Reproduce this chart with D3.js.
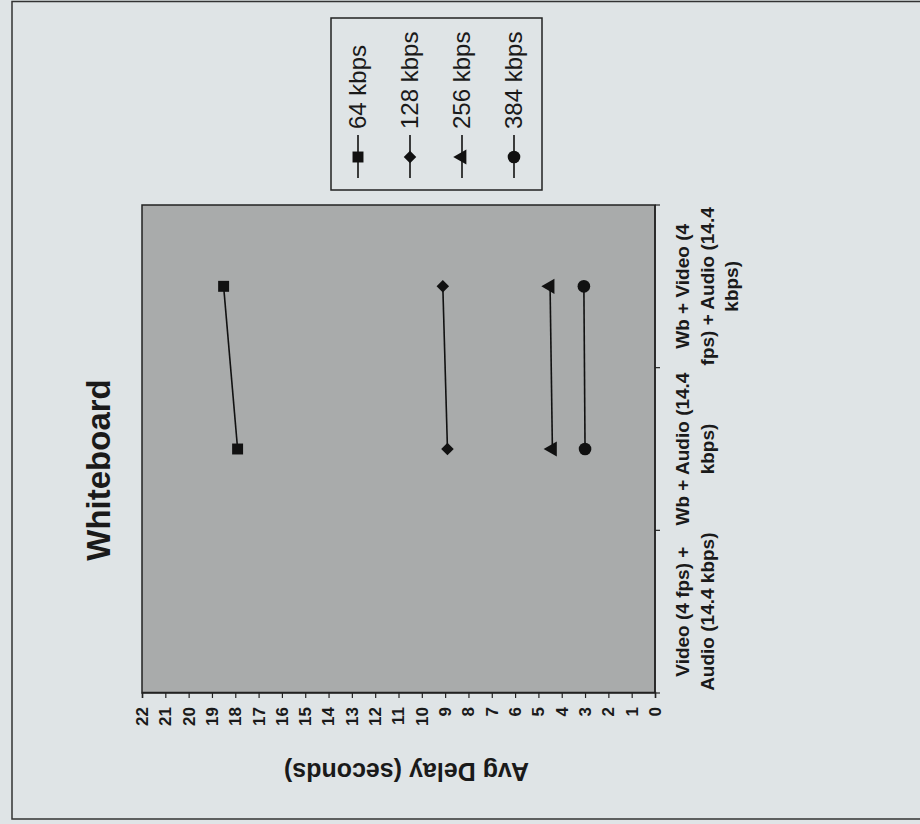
<!DOCTYPE html>
<html>
<head>
<meta charset="utf-8">
<script src="https://cdn.jsdelivr.net/npm/d3@7"></script>
<style>
  html, body { margin: 0; padding: 0; background: #dfe4e6; }
  svg { display: block; font-family: Arial, "Liberation Sans", sans-serif; }
</style>
</head>
<body>
<svg id="chart" width="920" height="824"></svg>
<script>
// ---- data ----
const categories = ["Video (4 fps) + Audio (14.4 kbps)", "Wb + Audio (14.4 kbps)", "Wb + Video (4 fps) + Audio (14.4 kbps)"];
const categoryLines = [
  ["Video (4 fps) +", "Audio (14.4 kbps)"],
  ["Wb + Audio (14.4", "kbps)"],
  ["Wb + Video (4", "fps) + Audio (14.4", "kbps)"]
];
const seriesNames = ["64 kbps", "128 kbps", "256 kbps", "384 kbps"];
const s64  = [null, 17.9, 18.5];
const s128 = [null, 8.9, 9.1];
const s256 = [null, 4.4, 4.5];
const s384 = [null, 3.0, 3.05];
const seriesValues = [s64, s128, s256, s384];
const yTicks = d3.range(0, 23, 1);
const title = "Whiteboard";
const yTitle = "Avg Delay (seconds)";

// ---- layout (chart drawn upright, then rotated -90deg onto page) ----
const svg = d3.select("#chart");
const W = 824, H = 920; // upright chart dims (page is rotated)

// page border (screen coords)
svg.append("path")
  .attr("d", "M920,1.5 H12 V819 H920")
  .attr("fill", "none").attr("stroke", "#333").attr("stroke-width", 1.5);

const g = svg.append("g").attr("transform", `translate(0,${W}) rotate(-90)`);

const plot = { x0: 131, x1: 619, y0: 142, y1: 655 };
const x = d3.scaleBand().domain(categories).range([plot.x0, plot.x1]).padding(0);
const y = d3.scaleLinear().domain([0, 22]).range([plot.y1, plot.y0]);

// plot area
g.append("rect")
  .attr("x", plot.x0).attr("y", plot.y0)
  .attr("width", plot.x1 - plot.x0).attr("height", plot.y1 - plot.y0)
  .attr("fill", "#a9abab").attr("stroke", "#222").attr("stroke-width", 1.5);

// value axis
const yAxis = d3.axisLeft(y).tickValues(yTicks).tickSize(5).tickPadding(9).tickFormat(d3.format("d"));
const ya = g.append("g").attr("transform", `translate(${plot.x0},0)`).call(yAxis);
ya.select(".domain").attr("stroke", "#222").attr("stroke-width", 1.5);
ya.selectAll(".tick line").attr("stroke", "#222").attr("stroke-width", 1.2);
ya.selectAll(".tick text").attr("font-size", 17).attr("font-weight", "bold").attr("fill", "#1a1a1a");

// category axis (ticks between categories)
const xa = g.append("g").attr("transform", `translate(0,${plot.y1})`);
xa.append("line").attr("x1", plot.x0).attr("x2", plot.x1).attr("stroke", "#222").attr("stroke-width", 1.5);
const bounds = categories.map(c => x(c)).concat([x(categories[categories.length - 1]) + x.bandwidth()]);
xa.selectAll("line.tk").data(bounds).join("line").attr("class", "tk")
  .attr("x1", d => d).attr("x2", d => d).attr("y1", 0).attr("y2", 5)
  .attr("stroke", "#222").attr("stroke-width", 1.2);
const lab = xa.selectAll("text.cat").data(categories).join("text").attr("class", "cat")
  .attr("text-anchor", "middle").attr("font-size", 19).attr("font-weight", "bold").attr("fill", "#1a1a1a");
lab.each(function(c, i) {
  const t = d3.select(this);
  categoryLines[i].forEach((ln, k) => {
    t.append("tspan").attr("x", x(c) + x.bandwidth() / 2).attr("y", 34 + k * 24.5).text(ln);
  });
});

// title
g.append("text").attr("x", 354).attr("y", 110).attr("text-anchor", "middle")
  .attr("font-size", 33).attr("font-weight", "bold").attr("fill", "#1a1a1a").text(title);

// y-axis title
g.append("text").attr("transform", `translate(61,${(plot.y0 + plot.y1) / 2 + 8}) rotate(-90)`)
  .attr("text-anchor", "middle").attr("font-size", 25).attr("font-weight", "bold").attr("fill", "#1a1a1a")
  .text(yTitle);

// series
const symbols = [d3.symbolSquare, d3.symbolDiamond2, d3.symbolTriangle, d3.symbolCircle];
const sizes = [120, 100, 100, 125];
const line = d3.line().defined(d => d.v != null).x(d => x(d.c) + x.bandwidth() / 2).y(d => y(d.v));
seriesValues.forEach((vals, si) => {
  const pts = vals.map((v, i) => ({ c: categories[i], v }));
  g.append("path").datum(pts).attr("d", line)
    .attr("fill", "none").attr("stroke", "#111").attr("stroke-width", 1.6);
  g.selectAll(null).data(pts.filter(p => p.v != null)).join("path")
    .attr("transform", p => `translate(${x(p.c) + x.bandwidth() / 2},${y(p.v)})`)
    .attr("d", d3.symbol().type(symbols[si]).size(sizes[si]))
    .attr("fill", "#111");
});

// legend
const leg = g.append("g");
leg.append("rect").attr("x", 634).attr("y", 331).attr("width", 172).attr("height", 211)
  .attr("fill", "#dfe4e6").attr("stroke", "#222").attr("stroke-width", 1.5);
const items = leg.selectAll("g.item").data(seriesNames).join("g").attr("class", "item")
  .attr("transform", (d, i) => `translate(0,${358 + i * 52})`);
items.append("line").attr("x1", 646).attr("x2", 689).attr("stroke", "#111").attr("stroke-width", 1.6);
items.append("path").attr("transform", "translate(667,0)")
  .attr("d", (d, i) => d3.symbol().type(symbols[i]).size(sizes[i])())
  .attr("fill", "#111");
items.append("text").attr("x", 695).attr("dy", "0.35em").attr("font-size", 24).attr("fill", "#1a1a1a")
  .text(d => d);
</script>
</body>
</html>
